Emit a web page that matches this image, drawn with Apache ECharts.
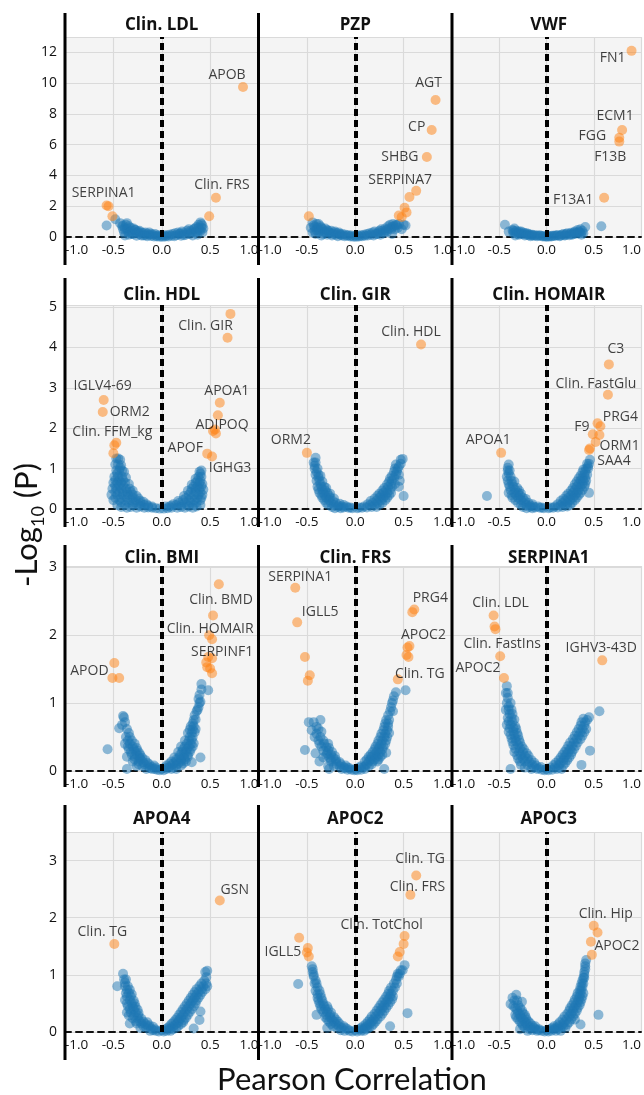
<!DOCTYPE html>
<html><head><meta charset="utf-8">
<script src="https://cdn.jsdelivr.net/npm/echarts@6/dist/echarts.min.js"></script>
<style>html,body{margin:0;padding:0;background:#fff}#c{width:644px;height:1095px}</style>
</head><body><div id="c"></div>
<script>
// ---------- DATA ----------
const panelTitles = ['Clin. LDL','PZP','VWF','Clin. HDL','Clin. GIR','Clin. HOMAIR','Clin. BMI','Clin. FRS','SERPINA1','APOA4','APOC2','APOC3'];
const xTickValues = [-1.0,-0.5,0.0,0.5,1.0];
const rowYMax = [13, 5.05, 3.02, 3.5];
const rowYStep = [2, 1, 1, 1];
const xAxisTitle = 'Pearson Correlation';

const ldlBlue = [[-0.57,0.75],[-0.48,1.15],[-0.43,0.9],[-0.41,0.7],[-0.40,0.5],[-0.39,0.3],[-0.38,0.1],[-0.37,0.8],[-0.36,0.55],[-0.35,0.35],[-0.34,0.15],[-0.32,0.6],[-0.31,0.4],[-0.30,0.2],[-0.28,0.45],[-0.27,0.25],[-0.26,0.08],[-0.24,0.35],[-0.23,0.18],[-0.21,0.1],[-0.19,0.25],[-0.17,0.12],[-0.15,0.05],[-0.13,0.15],[-0.11,0.06],[-0.08,0.04],[-0.05,0.03],[-0.02,0.02],[0.01,0.01],[0.04,0.03],[0.07,0.04],[0.10,0.08],[0.13,0.05],[0.15,0.12],[0.18,0.18],[0.20,0.08],[0.22,0.25],[0.25,0.15],[0.27,0.3],[0.29,0.2],[0.30,0.4],[0.32,0.1],[0.33,0.5],[0.35,0.3],[0.36,0.65],[0.37,0.15],[0.38,0.8],[0.39,0.45],[0.40,0.95],[0.41,0.6],[0.42,0.75],[0.42,0.3]];
const ldlBlueCore = [[-0.40,0.75],[-0.38,0.55],[-0.36,0.9],[-0.34,0.7],[-0.33,0.3],[-0.31,0.2],[-0.29,0.55],[-0.27,0.45],[-0.25,0.3],[-0.23,0.4],[-0.21,0.3],[-0.19,0.1],[-0.17,0.3],[-0.15,0.2],[-0.13,0.3],[-0.11,0.2],[-0.09,0.15],[-0.07,0.2],[-0.05,0.1],[-0.03,0.12],[0.00,0.08],[0.03,0.1],[0.05,0.12],[0.08,0.15],[0.11,0.2],[0.14,0.25],[0.17,0.3],[0.19,0.22],[0.21,0.35],[0.23,0.12],[0.26,0.4],[0.28,0.5],[0.31,0.3],[0.34,0.55],[0.36,0.35],[0.38,0.6],[0.40,0.4],[0.41,0.85],[0.43,0.55]];
const ldlOrange = [[0.84,9.75,'APOB'],[0.56,2.55,'Clin. FRS'],[0.49,1.35,''],[-0.57,2.05,'SERPINA1'],[-0.55,2.0,''],[-0.51,1.35,'']];

const pzpBlue = [[-0.46,0.6],[-0.44,0.95],[-0.43,0.75],[-0.42,0.4],[-0.41,0.2],[-0.40,0.85],[-0.39,0.6],[-0.38,0.3],[-0.36,0.7],[-0.35,0.1],[-0.34,0.5],[-0.32,0.3],[-0.31,0.55],[-0.29,0.15],[-0.28,0.4],[-0.26,0.25],[-0.24,0.1],[-0.22,0.3],[-0.20,0.15],[-0.18,0.05],[-0.16,0.2],[-0.14,0.1],[-0.11,0.05],[-0.08,0.08],[-0.05,0.03],[-0.02,0.02],[0.01,0.01],[0.04,0.03],[0.07,0.05],[0.10,0.08],[0.13,0.1],[0.16,0.15],[0.19,0.1],[0.21,0.2],[0.24,0.3],[0.26,0.15],[0.28,0.4],[0.30,0.25],[0.31,0.55],[0.33,0.35],[0.34,0.7],[0.36,0.8],[0.37,0.5],[0.38,0.2],[0.40,0.7],[0.42,0.8],[0.44,0.6],[0.50,0.8],[0.52,0.75],[0.48,0.5]];
const pzpBlueCore = [[-0.44,0.3],[-0.42,0.65],[-0.40,0.45],[-0.38,0.85],[-0.37,0.4],[-0.35,0.6],[-0.33,0.2],[-0.31,0.35],[-0.29,0.45],[-0.27,0.3],[-0.25,0.4],[-0.23,0.2],[-0.21,0.35],[-0.19,0.25],[-0.17,0.3],[-0.15,0.15],[-0.13,0.2],[-0.10,0.15],[-0.07,0.12],[-0.04,0.1],[0.00,0.08],[0.03,0.1],[0.06,0.12],[0.09,0.15],[0.12,0.2],[0.15,0.25],[0.18,0.3],[0.20,0.35],[0.23,0.2],[0.25,0.4],[0.27,0.5],[0.29,0.3],[0.32,0.45],[0.35,0.55],[0.38,0.65],[0.39,0.85],[0.41,0.5],[0.43,0.75],[0.45,0.85]];
const pzpOrange = [[0.83,8.9,'AGT'],[0.79,6.95,'CP'],[0.74,5.2,'SHBG'],[0.63,3.0,'SERPINA7'],[0.56,2.6,''],[0.51,1.9,''],[0.53,1.6,''],[0.45,1.4,''],[0.48,1.3,''],[-0.48,1.35,'']];

const vwfBlue = [[-0.44,0.8],[-0.40,0.35],[-0.36,0.45],[-0.35,0.25],[-0.34,0.55],[-0.33,0.1],[-0.32,0.4],[-0.30,0.3],[-0.29,0.15],[-0.27,0.35],[-0.25,0.2],[-0.23,0.1],[-0.21,0.25],[-0.19,0.12],[-0.17,0.05],[-0.15,0.15],[-0.13,0.08],[-0.10,0.05],[-0.07,0.1],[-0.04,0.03],[-0.01,0.02],[0.02,0.02],[0.05,0.04],[0.08,0.06],[0.11,0.1],[0.14,0.05],[0.16,0.15],[0.19,0.1],[0.21,0.2],[0.24,0.12],[0.26,0.28],[0.28,0.18],[0.30,0.35],[0.32,0.22],[0.33,0.45],[0.35,0.3],[0.36,0.5],[0.37,0.15],[0.39,0.25],[0.41,0.65],[0.58,0.7]];
const vwfBlueCore = [[-0.35,0.4],[-0.33,0.3],[-0.31,0.2],[-0.29,0.35],[-0.27,0.2],[-0.25,0.3],[-0.23,0.25],[-0.21,0.15],[-0.19,0.2],[-0.17,0.15],[-0.15,0.1],[-0.12,0.12],[-0.09,0.1],[-0.06,0.08],[-0.03,0.06],[0.00,0.05],[0.03,0.06],[0.06,0.08],[0.09,0.1],[0.12,0.12],[0.15,0.1],[0.18,0.2],[0.20,0.12],[0.22,0.25],[0.25,0.2],[0.27,0.15],[0.29,0.3],[0.31,0.25],[0.34,0.35],[0.36,0.25],[0.38,0.4]];
const vwfOrange = [[0.90,12.1,'FN1'],[0.80,6.95,'ECM1'],[0.77,6.45,'FGG'],[0.77,6.2,'F13B'],[0.61,2.55,'F13A1']];

const hdlBlue = [[-0.47,1.25],[-0.45,1.25],[-0.43,1.22],[-0.48,1.1],[-0.45,1.1],[-0.42,1.08],[-0.47,0.95],[-0.44,0.95],[-0.41,0.95],[-0.39,0.92],[-0.49,0.8],[-0.45,0.8],[-0.41,0.8],[-0.37,0.78],[-0.50,0.65],[-0.46,0.65],[-0.42,0.65],[-0.38,0.65],[-0.34,0.62],[-0.51,0.5],[-0.47,0.5],[-0.42,0.5],[-0.37,0.5],[-0.33,0.5],[-0.30,0.45],[-0.52,0.35],[-0.46,0.35],[-0.40,0.35],[-0.35,0.35],[-0.30,0.35],[-0.26,0.32],[-0.50,0.22],[-0.44,0.22],[-0.38,0.22],[-0.32,0.22],[-0.27,0.22],[-0.22,0.2],[-0.19,0.18],[-0.46,0.1],[-0.38,0.1],[-0.30,0.1],[-0.24,0.1],[-0.18,0.1],[-0.14,0.08],[-0.10,0.06],[-0.36,0.03],[-0.26,0.03],[-0.18,0.03],[-0.10,0.03],[-0.06,0.02],[-0.02,0.01],[0.02,0.01],[0.06,0.02],[0.10,0.03],[0.16,0.03],[0.24,0.03],[0.32,0.03],[0.10,0.08],[0.15,0.1],[0.20,0.1],[0.26,0.1],[0.33,0.1],[0.40,0.1],[0.17,0.2],[0.22,0.22],[0.28,0.22],[0.34,0.22],[0.40,0.22],[0.23,0.32],[0.28,0.35],[0.33,0.35],[0.38,0.35],[0.42,0.35],[0.27,0.45],[0.31,0.5],[0.35,0.5],[0.39,0.5],[0.43,0.48],[0.31,0.6],[0.35,0.65],[0.39,0.65],[0.42,0.62],[0.35,0.75],[0.38,0.8],[0.41,0.8],[0.39,0.92],[0.41,0.95]];
const hdlBlueCore = [[-0.48,0.72],[-0.44,0.72],[-0.40,0.72],[-0.48,0.42],[-0.44,0.42],[-0.40,0.42],[-0.36,0.42],[-0.32,0.42],[-0.48,0.28],[-0.42,0.28],[-0.36,0.28],[-0.30,0.28],[-0.24,0.26],[-0.42,0.16],[-0.34,0.16],[-0.28,0.16],[-0.22,0.14],[-0.16,0.12],[-0.42,0.05],[-0.32,0.05],[-0.22,0.06],[-0.14,0.04],[-0.46,0.88],[-0.43,1.02],[-0.40,0.58],[-0.44,0.58],[-0.48,0.58],[0.04,0.06],[0.08,0.06],[0.12,0.12],[0.20,0.05],[0.28,0.06],[0.36,0.06],[0.18,0.15],[0.24,0.16],[0.30,0.16],[0.36,0.16],[0.25,0.27],[0.31,0.28],[0.37,0.28],[0.41,0.28],[0.30,0.42],[0.35,0.42],[0.40,0.42],[0.33,0.56],[0.37,0.56],[0.41,0.56],[0.37,0.7],[0.40,0.7],[0.40,0.87]];
const hdlOrange = [[0.71,4.83,''],[0.68,4.24,'Clin. GIR'],[0.60,2.63,'APOA1'],[0.58,2.32,''],[0.53,1.93,'ADIPOQ'],[0.56,1.87,''],[0.55,1.97,''],[0.47,1.37,'APOF'],[0.52,1.3,'IGHG3'],[-0.60,2.7,'IGLV4-69'],[-0.61,2.4,'ORM2'],[-0.47,1.64,'Clin. FFM_kg'],[-0.49,1.58,''],[-0.50,1.38,'']];

const girBlue = [[-0.41,1.27],[-0.43,1.15],[-0.41,1.15],[-0.42,1.0],[-0.39,1.0],[-0.41,0.85],[-0.38,0.85],[-0.36,0.82],[-0.40,0.7],[-0.37,0.7],[-0.34,0.68],[-0.39,0.55],[-0.35,0.55],[-0.32,0.55],[-0.30,0.52],[-0.37,0.4],[-0.33,0.4],[-0.29,0.4],[-0.26,0.38],[-0.34,0.28],[-0.30,0.28],[-0.26,0.28],[-0.22,0.26],[-0.30,0.15],[-0.25,0.15],[-0.20,0.15],[-0.16,0.13],[-0.12,0.1],[-0.24,0.05],[-0.18,0.05],[-0.12,0.04],[-0.07,0.03],[-0.03,0.02],[0.02,0.02],[0.07,0.03],[0.12,0.04],[0.17,0.05],[0.22,0.05],[0.13,0.12],[0.18,0.15],[0.23,0.15],[0.28,0.15],[0.20,0.26],[0.25,0.28],[0.29,0.28],[0.33,0.28],[0.25,0.38],[0.29,0.4],[0.33,0.4],[0.37,0.4],[0.30,0.52],[0.34,0.55],[0.38,0.55],[0.45,0.55],[0.35,0.68],[0.38,0.7],[0.46,0.7],[0.38,0.82],[0.42,0.85],[0.45,0.85],[0.41,1.0],[0.44,1.0],[0.42,1.1],[0.47,1.12],[0.47,1.22],[0.49,1.24],[0.50,0.32]];
const girBlueCore = [[-0.42,1.07],[-0.40,0.92],[-0.38,0.78],[-0.36,0.62],[-0.38,0.48],[-0.34,0.48],[-0.31,0.46],[-0.35,0.34],[-0.31,0.34],[-0.27,0.33],[-0.32,0.22],[-0.27,0.22],[-0.23,0.2],[-0.28,0.1],[-0.22,0.1],[-0.17,0.08],[-0.14,0.06],[-0.21,0.02],[-0.15,0.02],[-0.09,0.06],[-0.05,0.04],[0.04,0.04],[0.09,0.06],[0.15,0.09],[0.20,0.1],[0.25,0.1],[0.16,0.2],[0.22,0.21],[0.27,0.22],[0.31,0.22],[0.23,0.33],[0.27,0.34],[0.31,0.34],[0.35,0.34],[0.28,0.46],[0.32,0.47],[0.36,0.47],[0.33,0.61],[0.37,0.62],[0.41,0.62],[0.36,0.76],[0.40,0.77],[0.40,0.92],[0.43,0.93],[0.45,1.05]];
const girOrange = [[0.68,4.07,'Clin. HDL'],[-0.50,1.39,'ORM2']];

const homairBlue = [[-0.63,0.32],[-0.40,1.1],[-0.41,0.95],[-0.39,0.95],[-0.42,0.8],[-0.38,0.8],[-0.41,0.7],[-0.37,0.7],[-0.34,0.68],[-0.39,0.55],[-0.35,0.55],[-0.31,0.52],[-0.40,0.4],[-0.34,0.4],[-0.30,0.4],[-0.27,0.38],[-0.36,0.28],[-0.30,0.28],[-0.25,0.28],[-0.22,0.25],[-0.30,0.15],[-0.24,0.15],[-0.19,0.15],[-0.15,0.12],[-0.25,0.05],[-0.18,0.05],[-0.12,0.04],[-0.07,0.03],[-0.03,0.02],[0.02,0.02],[0.07,0.03],[0.12,0.04],[0.17,0.05],[0.22,0.06],[0.12,0.12],[0.17,0.15],[0.22,0.15],[0.27,0.15],[0.18,0.25],[0.23,0.28],[0.28,0.28],[0.32,0.28],[0.23,0.38],[0.28,0.4],[0.32,0.4],[0.36,0.4],[0.45,0.4],[0.28,0.52],[0.32,0.55],[0.36,0.55],[0.40,0.55],[0.32,0.68],[0.36,0.7],[0.39,0.7],[0.42,0.7],[0.36,0.82],[0.40,0.85],[0.43,0.85],[0.39,0.98],[0.42,1.0],[0.44,1.0],[0.43,1.12],[0.45,1.12],[0.46,1.22]];
const homairBlueCore = [[-0.41,1.02],[-0.40,0.88],[-0.40,0.62],[-0.36,0.62],[-0.38,0.47],[-0.33,0.47],[-0.29,0.46],[-0.37,0.34],[-0.32,0.34],[-0.28,0.33],[-0.33,0.22],[-0.27,0.22],[-0.23,0.2],[-0.27,0.1],[-0.21,0.1],[-0.17,0.08],[-0.14,0.06],[-0.21,0.02],[-0.15,0.02],[-0.09,0.06],[-0.05,0.04],[0.04,0.04],[0.09,0.06],[0.15,0.09],[0.20,0.1],[0.25,0.1],[0.15,0.2],[0.20,0.21],[0.25,0.22],[0.30,0.22],[0.21,0.33],[0.26,0.34],[0.30,0.34],[0.34,0.34],[0.26,0.46],[0.30,0.47],[0.34,0.47],[0.38,0.47],[0.30,0.61],[0.34,0.62],[0.38,0.62],[0.41,0.62],[0.34,0.76],[0.38,0.77],[0.41,0.77],[0.38,0.91],[0.41,0.92],[0.44,1.06]];
const homairOrange = [[0.66,3.58,'C3'],[0.65,2.83,'Clin. FastGlu'],[0.57,2.05,'PRG4'],[0.54,2.12,''],[0.49,1.85,'F9'],[0.56,1.83,''],[0.52,1.66,'ORM1'],[0.46,1.5,'SAA4'],[0.45,1.46,''],[-0.48,1.39,'APOA1']];

const bmiBlue = [[-0.56,0.32],[-0.40,0.81],[-0.39,0.79],[-0.44,0.63],[-0.34,0.56],[-0.37,0.5],[-0.33,0.5],[-0.35,0.45],[-0.31,0.45],[-0.35,0.36],[-0.30,0.36],[-0.26,0.34],[-0.32,0.28],[-0.27,0.28],[-0.23,0.26],[-0.36,0.21],[-0.28,0.21],[-0.23,0.2],[-0.20,0.19],[-0.30,0.14],[-0.24,0.14],[-0.19,0.13],[-0.15,0.12],[-0.26,0.07],[-0.20,0.07],[-0.14,0.07],[-0.10,0.06],[-0.06,0.05],[-0.36,0.03],[-0.16,0.03],[-0.10,0.03],[-0.05,0.02],[-0.02,0.01],[0.02,0.01],[0.05,0.03],[0.10,0.03],[0.15,0.03],[0.05,0.08],[0.10,0.08],[0.15,0.08],[0.20,0.08],[0.10,0.14],[0.15,0.14],[0.20,0.14],[0.25,0.14],[0.31,0.13],[0.13,0.2],[0.18,0.2],[0.23,0.2],[0.27,0.21],[0.40,0.2],[0.17,0.28],[0.21,0.28],[0.25,0.28],[0.29,0.28],[0.20,0.36],[0.24,0.36],[0.28,0.36],[0.32,0.36],[0.24,0.45],[0.28,0.45],[0.31,0.46],[0.27,0.56],[0.31,0.56],[0.34,0.57],[0.30,0.66],[0.33,0.66],[0.33,0.75],[0.35,0.76],[0.36,0.88],[0.37,0.9],[0.39,1.0],[0.40,1.02],[0.39,1.12],[0.41,1.2],[0.48,1.19],[0.41,1.28]];
const bmiBlueCore = [[-0.38,0.72],[-0.41,0.68],[-0.36,0.62],[-0.38,0.4],[-0.33,0.4],[-0.28,0.4],[-0.34,0.32],[-0.29,0.32],[-0.25,0.3],[-0.31,0.24],[-0.26,0.24],[-0.22,0.23],[-0.28,0.17],[-0.22,0.17],[-0.17,0.16],[-0.13,0.1],[-0.24,0.1],[-0.18,0.1],[-0.08,0.08],[-0.12,0.04],[-0.07,0.03],[0.00,0.03],[0.03,0.05],[0.07,0.05],[0.12,0.05],[0.08,0.11],[0.12,0.11],[0.17,0.11],[0.22,0.11],[0.15,0.17],[0.20,0.17],[0.24,0.17],[0.19,0.24],[0.23,0.24],[0.27,0.24],[0.22,0.32],[0.26,0.32],[0.30,0.32],[0.26,0.4],[0.30,0.4],[0.33,0.41],[0.29,0.5],[0.32,0.5],[0.29,0.61],[0.32,0.61],[0.35,0.62],[0.32,0.7],[0.34,0.82],[0.38,0.94],[0.38,1.06]];
const bmiOrange = [[0.59,2.75,''],[0.53,2.29,'Clin. BMD'],[0.49,2.0,'Clin. HOMAIR'],[0.52,1.94,''],[0.52,1.66,'SERPINF1'],[0.48,1.68,''],[0.46,1.6,''],[0.47,1.53,''],[0.50,1.51,''],[0.52,1.44,''],[-0.51,1.37,'APOD'],[-0.49,1.59,''],[-0.44,1.37,'']];

const frsBlue = [[-0.36,0.75],[-0.48,0.72],[-0.43,0.72],[-0.45,0.6],[-0.35,0.58],[-0.40,0.55],[-0.38,0.45],[-0.33,0.45],[-0.35,0.36],[-0.30,0.35],[-0.27,0.34],[-0.52,0.31],[-0.41,0.26],[-0.29,0.26],[-0.33,0.2],[-0.27,0.2],[-0.23,0.2],[-0.37,0.14],[-0.25,0.14],[-0.20,0.14],[-0.16,0.13],[-0.28,0.07],[-0.22,0.07],[-0.16,0.07],[-0.12,0.06],[-0.08,0.05],[-0.27,0.03],[-0.14,0.03],[-0.08,0.02],[-0.04,0.02],[-0.01,0.01],[0.02,0.01],[0.06,0.02],[0.10,0.03],[0.30,0.03],[0.06,0.07],[0.10,0.07],[0.14,0.07],[0.10,0.14],[0.14,0.14],[0.18,0.14],[0.23,0.14],[0.14,0.21],[0.17,0.21],[0.22,0.21],[0.26,0.21],[0.18,0.28],[0.22,0.28],[0.26,0.28],[0.32,0.27],[0.21,0.36],[0.25,0.36],[0.29,0.36],[0.24,0.45],[0.28,0.45],[0.32,0.45],[0.27,0.55],[0.31,0.55],[0.35,0.56],[0.30,0.65],[0.34,0.65],[0.32,0.75],[0.35,0.75],[0.36,0.88],[0.39,0.88],[0.38,1.0],[0.40,1.1],[0.52,1.19],[0.42,1.16]];
const frsBlueCore = [[-0.40,0.65],[-0.38,0.62],[-0.42,0.5],[-0.36,0.5],[-0.37,0.4],[-0.32,0.4],[-0.28,0.4],[-0.33,0.3],[-0.28,0.3],[-0.24,0.28],[-0.30,0.24],[-0.25,0.24],[-0.21,0.22],[-0.25,0.17],[-0.20,0.17],[-0.15,0.1],[-0.19,0.1],[-0.10,0.08],[-0.11,0.04],[-0.06,0.04],[0.00,0.03],[0.04,0.05],[0.08,0.05],[0.12,0.1],[0.17,0.1],[0.12,0.17],[0.16,0.17],[0.20,0.17],[0.24,0.17],[0.16,0.24],[0.20,0.24],[0.24,0.24],[0.28,0.24],[0.20,0.32],[0.24,0.32],[0.28,0.32],[0.23,0.4],[0.27,0.4],[0.31,0.4],[0.26,0.5],[0.30,0.5],[0.33,0.5],[0.29,0.6],[0.33,0.6],[0.31,0.7],[0.34,0.7],[0.34,0.82],[0.37,0.94],[0.39,1.04]];
const frsOrange = [[-0.62,2.7,'SERPINA1'],[-0.60,2.19,'IGLL5'],[-0.52,1.68,''],[-0.47,1.41,''],[-0.49,1.33,''],[0.61,2.38,'PRG4'],[0.59,2.34,''],[0.56,1.84,'APOC2'],[0.54,1.82,''],[0.53,1.71,''],[0.55,1.68,''],[0.44,1.35,'Clin. TG']];

const serpBlue = [[-0.42,1.25],[-0.43,1.15],[-0.41,1.15],[-0.42,1.0],[-0.38,1.0],[-0.43,0.9],[-0.40,0.9],[-0.37,0.9],[-0.41,0.78],[-0.37,0.78],[-0.34,0.76],[-0.42,0.68],[-0.38,0.68],[-0.33,0.66],[-0.40,0.58],[-0.35,0.58],[-0.31,0.56],[-0.37,0.48],[-0.33,0.48],[-0.29,0.46],[-0.35,0.38],[-0.30,0.38],[-0.26,0.36],[-0.34,0.28],[-0.29,0.28],[-0.25,0.28],[-0.21,0.26],[-0.30,0.18],[-0.25,0.18],[-0.20,0.18],[-0.16,0.16],[-0.27,0.09],[-0.20,0.09],[-0.15,0.09],[-0.11,0.08],[-0.06,0.06],[-0.38,0.03],[-0.16,0.03],[-0.10,0.03],[-0.05,0.02],[-0.02,0.01],[0.02,0.01],[0.06,0.02],[0.11,0.03],[0.16,0.03],[0.08,0.09],[0.13,0.09],[0.18,0.09],[0.37,0.09],[0.13,0.16],[0.18,0.16],[0.22,0.16],[0.17,0.24],[0.21,0.24],[0.26,0.24],[0.21,0.32],[0.25,0.32],[0.29,0.32],[0.46,0.3],[0.25,0.42],[0.29,0.42],[0.33,0.42],[0.30,0.52],[0.34,0.52],[0.38,0.52],[0.34,0.62],[0.38,0.62],[0.42,0.62],[0.37,0.72],[0.41,0.72],[0.45,0.79],[0.56,0.88]];
const serpBlueCore = [[-0.41,1.08],[-0.40,0.95],[-0.39,0.84],[-0.36,0.84],[-0.40,0.73],[-0.36,0.72],[-0.39,0.63],[-0.35,0.63],[-0.32,0.62],[-0.38,0.53],[-0.34,0.53],[-0.30,0.52],[-0.36,0.43],[-0.32,0.43],[-0.28,0.42],[-0.33,0.33],[-0.28,0.33],[-0.24,0.32],[-0.31,0.23],[-0.27,0.23],[-0.23,0.22],[-0.19,0.22],[-0.28,0.14],[-0.23,0.14],[-0.18,0.13],[-0.13,0.12],[-0.23,0.05],[-0.13,0.05],[-0.08,0.04],[0.00,0.03],[0.04,0.05],[0.09,0.05],[0.13,0.05],[0.10,0.12],[0.15,0.12],[0.20,0.12],[0.15,0.2],[0.19,0.2],[0.24,0.2],[0.19,0.28],[0.23,0.28],[0.27,0.28],[0.23,0.37],[0.27,0.37],[0.31,0.37],[0.28,0.47],[0.32,0.47],[0.36,0.47],[0.32,0.57],[0.36,0.57],[0.40,0.57],[0.36,0.67],[0.40,0.67],[0.39,0.77],[0.43,0.75]];
const serpOrange = [[-0.56,2.29,'Clin. LDL'],[-0.55,2.13,''],[-0.54,2.09,''],[-0.49,1.69,'Clin. FastIns'],[-0.45,1.37,'APOC2'],[0.59,1.63,'IGHV3-43D']];

const apoa4Blue = [[-0.40,1.02],[-0.37,0.92],[-0.39,0.92],[-0.46,0.8],[-0.38,0.8],[-0.35,0.8],[-0.37,0.68],[-0.34,0.68],[-0.31,0.66],[-0.38,0.56],[-0.33,0.56],[-0.29,0.55],[-0.35,0.45],[-0.30,0.45],[-0.27,0.44],[-0.36,0.34],[-0.32,0.34],[-0.27,0.34],[-0.24,0.33],[-0.30,0.24],[-0.25,0.24],[-0.21,0.23],[-0.33,0.15],[-0.26,0.15],[-0.21,0.15],[-0.17,0.14],[-0.13,0.12],[-0.22,0.07],[-0.16,0.07],[-0.11,0.06],[-0.07,0.05],[-0.12,0.02],[-0.06,0.02],[-0.03,0.01],[0.02,0.01],[0.05,0.02],[0.09,0.02],[0.06,0.07],[0.10,0.07],[0.15,0.07],[0.33,0.06],[0.10,0.14],[0.15,0.14],[0.20,0.14],[0.14,0.21],[0.18,0.21],[0.23,0.21],[0.39,0.21],[0.18,0.3],[0.22,0.3],[0.27,0.3],[0.22,0.4],[0.26,0.4],[0.31,0.4],[0.40,0.36],[0.26,0.5],[0.30,0.5],[0.35,0.5],[0.30,0.6],[0.34,0.6],[0.38,0.6],[0.34,0.7],[0.38,0.7],[0.42,0.7],[0.39,0.8],[0.43,0.8],[0.47,0.8],[0.44,0.9],[0.45,1.05],[0.47,1.07]];
const apoa4BlueCore = [[-0.38,0.86],[-0.36,0.74],[-0.33,0.74],[-0.36,0.62],[-0.32,0.62],[-0.36,0.5],[-0.31,0.5],[-0.28,0.5],[-0.33,0.4],[-0.29,0.4],[-0.25,0.39],[-0.34,0.29],[-0.29,0.29],[-0.24,0.28],[-0.27,0.19],[-0.23,0.19],[-0.19,0.18],[-0.15,0.17],[-0.19,0.1],[-0.14,0.1],[-0.09,0.09],[-0.09,0.03],[0.00,0.03],[0.04,0.05],[0.08,0.05],[0.12,0.05],[0.08,0.1],[0.12,0.1],[0.17,0.1],[0.12,0.17],[0.17,0.17],[0.22,0.17],[0.16,0.25],[0.20,0.25],[0.25,0.25],[0.20,0.35],[0.24,0.35],[0.29,0.35],[0.24,0.45],[0.28,0.45],[0.33,0.45],[0.28,0.55],[0.32,0.55],[0.36,0.55],[0.32,0.65],[0.36,0.65],[0.40,0.65],[0.36,0.75],[0.41,0.75],[0.45,0.75],[0.41,0.85],[0.46,0.85],[0.46,0.96]];
const apoa4Orange = [[0.60,2.30,'GSN'],[-0.49,1.54,'Clin. TG']];

const apoc2Blue = [[-0.45,1.15],[-0.44,1.05],[-0.43,0.97],[-0.59,0.84],[-0.42,0.85],[-0.40,0.85],[-0.41,0.72],[-0.37,0.72],[-0.39,0.6],[-0.35,0.6],[-0.37,0.5],[-0.33,0.5],[-0.35,0.4],[-0.31,0.4],[-0.28,0.4],[-0.40,0.3],[-0.30,0.3],[-0.26,0.3],[-0.29,0.22],[-0.24,0.22],[-0.20,0.22],[-0.25,0.14],[-0.20,0.14],[-0.16,0.14],[-0.29,0.07],[-0.19,0.07],[-0.14,0.07],[-0.10,0.07],[-0.11,0.02],[-0.06,0.02],[-0.03,0.01],[0.02,0.01],[0.06,0.02],[0.09,0.02],[0.06,0.07],[0.10,0.07],[0.14,0.07],[0.11,0.14],[0.15,0.14],[0.19,0.14],[0.36,0.1],[0.15,0.22],[0.19,0.22],[0.23,0.22],[0.20,0.32],[0.24,0.32],[0.28,0.32],[0.54,0.33],[0.24,0.42],[0.28,0.42],[0.32,0.42],[0.28,0.52],[0.32,0.52],[0.36,0.52],[0.32,0.62],[0.36,0.62],[0.39,0.62],[0.35,0.72],[0.39,0.72],[0.40,0.85],[0.43,0.85],[0.43,0.97],[0.45,0.97],[0.47,1.08],[0.49,1.08],[0.51,1.17]];
const apoc2BlueCore = [[-0.44,1.1],[-0.43,1.0],[-0.41,0.9],[-0.39,0.78],[-0.39,0.66],[-0.36,0.66],[-0.38,0.55],[-0.34,0.55],[-0.36,0.45],[-0.32,0.45],[-0.29,0.45],[-0.33,0.35],[-0.29,0.35],[-0.25,0.34],[-0.31,0.26],[-0.26,0.26],[-0.22,0.26],[-0.27,0.18],[-0.22,0.18],[-0.18,0.18],[-0.23,0.1],[-0.17,0.1],[-0.12,0.1],[-0.15,0.03],[-0.08,0.05],[0.00,0.03],[0.04,0.05],[0.08,0.05],[0.12,0.05],[0.08,0.1],[0.12,0.1],[0.17,0.1],[0.13,0.18],[0.17,0.18],[0.21,0.18],[0.17,0.27],[0.21,0.27],[0.26,0.27],[0.22,0.37],[0.26,0.37],[0.30,0.37],[0.26,0.47],[0.30,0.47],[0.34,0.47],[0.30,0.57],[0.34,0.57],[0.38,0.57],[0.34,0.67],[0.37,0.67],[0.37,0.78],[0.41,0.78],[0.42,0.91],[0.44,1.02],[0.46,1.02]];
const apoc2Orange = [[0.63,2.74,'Clin. TG'],[0.57,2.4,'Clin. FRS'],[0.51,1.68,'Clin. TotChol'],[0.50,1.54,''],[0.46,1.4,''],[0.44,1.32,''],[-0.49,1.47,'IGLL5'],[-0.58,1.65,''],[-0.50,1.39,''],[-0.48,1.32,'']];

const apoc3Blue = [[-0.32,0.65],[-0.36,0.6],[-0.26,0.53],[-0.38,0.49],[-0.33,0.42],[-0.28,0.42],[-0.30,0.33],[-0.25,0.33],[-0.32,0.26],[-0.27,0.26],[-0.22,0.26],[-0.28,0.18],[-0.23,0.18],[-0.19,0.18],[-0.25,0.11],[-0.20,0.11],[-0.15,0.11],[-0.12,0.1],[-0.28,0.05],[-0.18,0.05],[-0.12,0.05],[-0.08,0.05],[-0.20,0.02],[-0.10,0.02],[-0.05,0.02],[-0.02,0.01],[0.02,0.01],[0.05,0.02],[0.10,0.02],[0.15,0.02],[0.06,0.07],[0.10,0.07],[0.15,0.07],[0.20,0.07],[0.12,0.13],[0.17,0.13],[0.22,0.13],[0.36,0.13],[0.17,0.22],[0.21,0.22],[0.26,0.22],[0.30,0.22],[0.22,0.32],[0.26,0.32],[0.30,0.32],[0.55,0.3],[0.25,0.42],[0.29,0.42],[0.33,0.42],[0.29,0.52],[0.33,0.52],[0.36,0.52],[0.32,0.62],[0.35,0.62],[0.38,0.62],[0.35,0.73],[0.37,0.73],[0.37,0.85],[0.39,0.85],[0.39,0.95],[0.40,0.95],[0.40,1.05],[0.41,1.15],[0.42,1.26]];
const apoc3BlueCore = [[-0.34,0.55],[-0.31,0.55],[-0.30,0.47],[-0.35,0.45],[-0.31,0.38],[-0.26,0.38],[-0.33,0.3],[-0.28,0.3],[-0.23,0.3],[-0.30,0.22],[-0.25,0.22],[-0.21,0.22],[-0.26,0.15],[-0.21,0.15],[-0.17,0.15],[-0.23,0.08],[-0.17,0.08],[-0.13,0.07],[-0.15,0.03],[-0.08,0.03],[0.00,0.03],[0.04,0.05],[0.08,0.05],[0.12,0.05],[0.08,0.1],[0.13,0.1],[0.18,0.1],[0.14,0.17],[0.19,0.17],[0.24,0.17],[0.19,0.27],[0.24,0.27],[0.28,0.27],[0.24,0.37],[0.28,0.37],[0.32,0.37],[0.27,0.47],[0.31,0.47],[0.35,0.47],[0.30,0.57],[0.34,0.57],[0.37,0.57],[0.33,0.68],[0.36,0.68],[0.39,0.68],[0.36,0.79],[0.38,0.79],[0.38,0.9],[0.40,1.0],[0.41,1.1],[0.41,1.2]];
const apoc3Orange = [[0.50,1.86,'Clin. Hip'],[0.54,1.74,''],[0.47,1.58,'APOC2'],[0.48,1.35,'']];

const blueSets = [ldlBlue.concat(ldlBlueCore),pzpBlue.concat(pzpBlueCore),vwfBlue.concat(vwfBlueCore),hdlBlue.concat(hdlBlueCore),girBlue.concat(girBlueCore),homairBlue.concat(homairBlueCore),bmiBlue.concat(bmiBlueCore),frsBlue.concat(frsBlueCore),serpBlue.concat(serpBlueCore),apoa4Blue.concat(apoa4BlueCore),apoc2Blue.concat(apoc2BlueCore),apoc3Blue.concat(apoc3BlueCore)];
const orangeSets = [ldlOrange,pzpOrange,vwfOrange,hdlOrange,girOrange,homairOrange,bmiOrange,frsOrange,serpOrange,apoa4Orange,apoc2Orange,apoc3Orange];

// ---------- STYLE / LAYOUT ----------
const labelOffsets = {
 'Clin. LDL|APOB':[-16,-12],'Clin. LDL|Clin. FRS':[6,-13],'Clin. LDL|SERPINA1':[-3,-12],
 'PZP|AGT':[-7,-17],'PZP|CP':[-15,-3],'PZP|SHBG':[-27,0],'PZP|SERPINA7':[-16,-11],
 'VWF|FN1':[-19,7],'VWF|ECM1':[-7,-14],'VWF|FGG':[-27,-2],'VWF|F13B':[-9,15],'VWF|F13A1':[-31,2],
 'Clin. HDL|Clin. GIR':[-22,-12],'Clin. HDL|APOA1':[7,-12],'Clin. HDL|ADIPOQ':[9,-6],'Clin. HDL|APOF':[-22,-6],'Clin. HDL|IGHG3':[18,12],'Clin. HDL|IGLV4-69':[-1,-14],'Clin. HDL|ORM2':[27,0],'Clin. HDL|Clin. FFM_kg':[-4,-11],
 'Clin. GIR|Clin. HDL':[-10,-13],'Clin. GIR|ORM2':[-16,-13],
 'Clin. HOMAIR|C3':[7,-15],'Clin. HOMAIR|Clin. FastGlu':[-12,-11],'Clin. HOMAIR|PRG4':[20,-9],'Clin. HOMAIR|F9':[-11,-7],'Clin. HOMAIR|ORM1':[24,4],'Clin. HOMAIR|SAA4':[24,13],'Clin. HOMAIR|APOA1':[-13,-13],
 'Clin. BMI|Clin. BMD':[8,-16],'Clin. BMI|Clin. HOMAIR':[1,-6],'Clin. BMI|SERPINF1':[10,-6],'Clin. BMI|APOD':[-23,-7],
 'Clin. FRS|SERPINA1':[5,-11],'Clin. FRS|IGLL5':[23,-10],'Clin. FRS|PRG4':[16,-11],'Clin. FRS|APOC2':[14,-11],'Clin. FRS|Clin. TG':[22,-5],
 'SERPINA1|Clin. LDL':[7,-13],'SERPINA1|Clin. FastIns':[2,-12],'SERPINA1|APOC2':[-26,-10],'SERPINA1|IGHV3-43D':[-1,-12],
 'APOA4|GSN':[15,-11],'APOA4|Clin. TG':[-12,-12],
 'APOC2|Clin. TG':[4,-16],'APOC2|Clin. FRS':[7,-8],'APOC2|Clin. TotChol':[-23,-11],'APOC2|IGLL5':[-25,4],
 'APOC3|Clin. Hip':[12,-12],'APOC3|APOC2':[26,4]
};
const colLeft = [65, 258.5, 452];
const panelW = 193.5;
const rowTop = [37, 305, 566, 832];
const rowH = [200, 204, 205, 200];
const titleY = [25, 295, 558, 819];
const barTop = [13, 278, 545, 805];
const barBottom = [265, 527, 787, 1060];
const FONT = 'Lato';
const SMALL = 'Open Sans';

const grids=[], xAxes=[], yAxes=[], series=[], graphics=[];
panelTitles.forEach((title,i)=>{
  const r = Math.floor(i/3), c = i%3;
  grids.push({left:colLeft[c], top:rowTop[r], width:panelW, height:rowH[r], show:true,
    backgroundColor:'#f4f4f4', borderWidth:0, containLabel:false});
  xAxes.push({type:'value', gridIndex:i, min:xTickValues[0], max:xTickValues[xTickValues.length-1], interval:0.5,
    axisLine:{show:true, onZero:true, lineStyle:{color:'#111', width:2, type:[6,5]}},
    axisTick:{show:false},
    splitLine:{show:true, lineStyle:{color:'#dadada', width:1.2}},
    axisLabel:{show:true, formatter:v=>v.toFixed(1), fontFamily:SMALL, fontSize:13.5, color:'#111', margin:6,
      alignMinLabel:'left', alignMaxLabel:'right', showMinLabel:true, showMaxLabel:true}});
  const step = rowYStep[r];
  yAxes.push({type:'value', gridIndex:i, min:0, max:rowYMax[r], interval:step,
    axisLine:{show:false}, axisTick:{show:false},
    splitLine:{show:true, lineStyle:{color:'#dadada', width:1.2}},
    axisLabel:{show:c===0, fontFamily:SMALL, fontSize:14, color:'#111', margin:8,
      formatter:v=>{const k=v/step; return Math.abs(k-Math.round(k))<1e-6 ? String(Math.round(v)) : '';}}});
  series.push({type:'scatter', xAxisIndex:i, yAxisIndex:i, data:blueSets[i], symbolSize:10,
    itemStyle:{color:'rgba(31,119,180,0.62)', borderWidth:0}, z:2, silent:true, animation:false});
  const items = orangeSets[i].map(d=>{
    const it = {value:[d[0],d[1]], name:d[2]};
    const off = labelOffsets[title+'|'+d[2]];
    if (d[2] && off) it.label = {show:true, position:'inside', offset:off, formatter:d[2]};
    return it;
  });
  series.push({type:'scatter', xAxisIndex:i, yAxisIndex:i, data:items, symbolSize:10,
    itemStyle:{color:'rgba(255,127,14,0.62)', borderWidth:0}, z:3, silent:true, animation:false,
    label:{show:false, fontFamily:SMALL, fontSize:14, color:'#111', textBorderWidth:0},
    markLine:{silent:true, symbol:['none','none'], label:{show:false}, animation:false,
      lineStyle:{color:'#000', width:4, type:[7,4]}, data:[{xAxis:0}]}});
  graphics.push({type:'text', x:colLeft[c]+panelW/2, y:titleY[r], z:100,
    style:{text:title, fontFamily:'Open Sans', fontWeight:'bold', fontSize:17, fill:'#111',
      textAlign:'center', textVerticalAlign:'middle', align:'center', verticalAlign:'middle'}});
});
for (let r=0;r<4;r++) for (let c=0;c<3;c++) {
  graphics.push({type:'rect', z:100, shape:{x:colLeft[c]-1.5, y:barTop[r], width:3, height:barBottom[r]-barTop[r]}, style:{fill:'#000'}});
}
graphics.push({type:'text', x:352, y:1080, z:100,
  style:{text:xAxisTitle, fontFamily:FONT, fontSize:31, fill:'#111', textAlign:'center', textVerticalAlign:'middle', align:'center', verticalAlign:'middle'}});
graphics.push({type:'text', x:27, y:525, rotation:Math.PI/2, z:100,
  style:{text:'{a|-Log}{s|10}{a| (P)}', textAlign:'center', textVerticalAlign:'middle', align:'center', verticalAlign:'middle',
    rich:{a:{fontFamily:FONT, fontSize:31, fill:'#111', color:'#111', lineHeight:40, verticalAlign:'middle'},
          s:{fontFamily:FONT, fontSize:18, fill:'#111', color:'#111', lineHeight:18, verticalAlign:'bottom'}}}});

const chart = echarts.init(document.getElementById('c'), null, {renderer:'canvas', devicePixelRatio:1});
chart.setOption({animation:false, backgroundColor:'#fff', grid:grids, xAxis:xAxes, yAxis:yAxes, series:series, graphic:graphics});
</script></body></html>
